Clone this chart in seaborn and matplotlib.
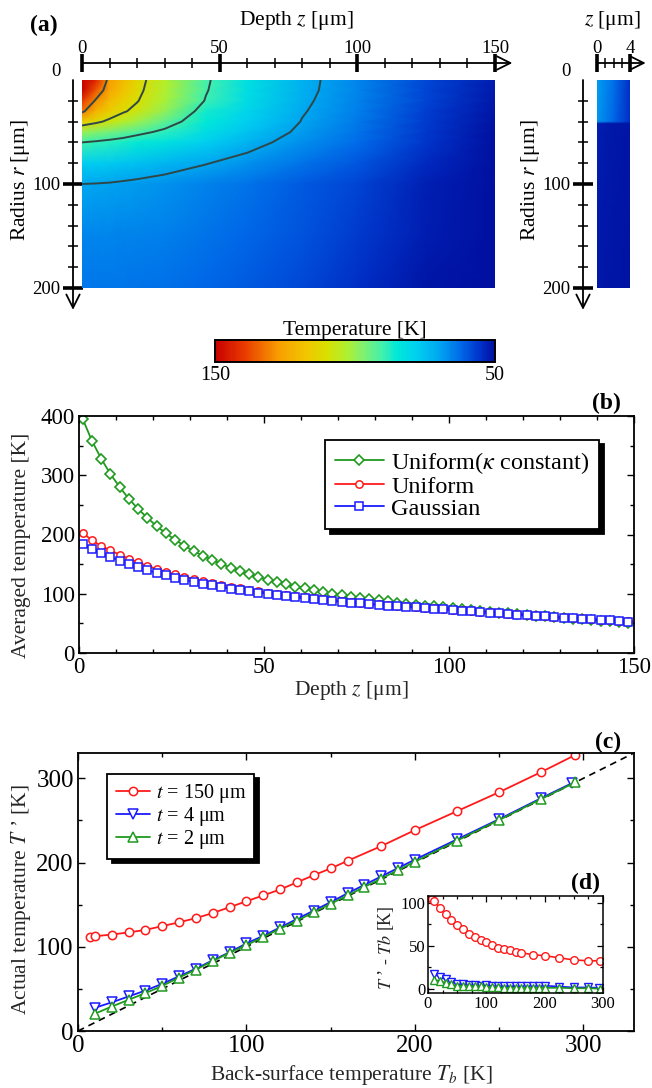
import numpy as np
import pandas as pd
import seaborn as sns
import matplotlib.pyplot as plt
from matplotlib.colors import LinearSegmentedColormap, Normalize
from matplotlib.ticker import MultipleLocator
from matplotlib.transforms import offset_copy

W, H = 652, 1088

# ---- (a) temperature map (K), rows = radius, cols = depth
z_grid = [0, 5, 10, 15, 20, 30, 45, 60, 80, 100, 125, 150]
r_grid = [0, 10, 20, 30, 40, 50, 60, 80, 100, 150, 200]
temp_map = [
    [168, 143, 127, 120, 113, 104, 91, 82.5, 72, 66, 58, 52],
    [155, 136, 125, 118, 112, 103.5, 90.5, 82, 71.8, 65.8, 57.8, 51.8],
    [140, 129, 120, 114.5, 110.5, 102, 89.5, 81.5, 71.2, 65.5, 57.5, 51.5],
    [132, 122, 115.5, 111, 107.5, 99.5, 86.5, 79.5, 70.5, 65, 57, 51],
    [116, 112, 108, 104, 100.5, 93.5, 85, 78, 69.7, 64.3, 56.5, 50.5],
    [100, 98, 96, 94, 92, 88.5, 82, 75.5, 68.5, 63.5, 56, 50],
    [90, 89, 88, 87, 85.5, 83, 78, 72.5, 67, 62.5, 55.5, 49.5],
    [78, 77.5, 77, 76, 75, 73, 70.3, 67.5, 63.5, 60, 54, 48.5],
    [70, 69.8, 69.5, 69, 68.5, 67.5, 65.5, 63.5, 60.5, 57.5, 52.5, 47.5],
    [66, 66, 66, 65.5, 65.5, 65, 63.5, 62, 59.5, 56.5, 52, 47.5],
    [64, 64, 64, 64, 63.5, 63, 62, 60.5, 58, 55, 51, 47],
]
contour_levels = [70, 90, 110, 130]

# thin film (t = 4 um)
z_thin = [0, 2, 4]
r_thin = [0, 40, 42, 200]
temp_thin = [
    [69, 63, 55],
    [68, 62, 55],
    [52, 51.5, 51],
    [51.5, 51, 50.5],
]

# ---- (b) averaged temperature vs depth
depth_b = [1, 3.5, 6, 8.5, 11, 13.5, 16, 18.5, 21, 23.5, 26, 28.5, 31, 33.5, 36,
           38.5, 41, 43.5, 46, 48.5, 51, 53.5, 56, 58.5, 61, 63.5, 66, 68.5, 71,
           73.5, 76, 78.5, 81, 83.5, 86, 88.5, 91, 93.5, 96, 98.5, 101, 103.5,
           106, 108.5, 111, 113.5, 116, 118.5, 121, 123.5, 126, 128.5, 131,
           133.5, 136, 138.5, 141, 143.5, 146, 148.5]
uniform_kconst = [395, 358, 328, 302, 280, 260, 243, 228, 214, 202, 191, 181, 172,
                  164, 157, 150, 144, 138, 133, 128, 124, 120, 116, 112, 109, 106,
                  103, 100, 98, 95, 93, 91, 89, 87, 85, 83, 81.5, 80, 78.5, 77,
                  75.5, 74, 72.5, 71, 69.5, 68, 66.8, 65.5, 64.2, 63, 61.8, 60.5,
                  59.3, 58.1, 56.9, 55.7, 54.5, 53.3, 52.1, 51]
uniform = [203, 190, 181, 173, 166, 159, 153, 147, 142, 137, 133, 129, 125, 121.5,
           118, 115, 112, 109.5, 107, 104.5, 102, 100, 98, 96, 94, 92.5, 91, 89.5,
           88, 86.5, 85, 83.5, 82, 80.8, 79.6, 78.5, 77.4, 76.3, 75.2, 74.1, 73,
           71.8, 70.6, 69.5, 68.4, 67.3, 66.3, 65.3, 64.3, 63.3, 62.3, 61.3, 60.3,
           59.3, 58.4, 57.5, 56.5, 55.5, 54.5, 53.5]
gaussian = [184, 176, 168, 162, 156, 150, 145, 140, 135, 131, 127, 123.5, 120, 117,
            114, 111, 108.5, 106, 104, 102, 100, 98, 96, 94, 92.5, 91, 89.5, 88,
            86.5, 85, 84, 82.5, 81, 80, 79, 78, 77, 76, 75, 74, 72.5, 71.3, 70.1,
            69, 67.9, 66.8, 65.8, 64.8, 63.8, 62.8, 61.8, 60.8, 59.8, 58.8, 57.9,
            57, 56, 55, 54, 53]

# ---- (c) actual temperature vs back-surface temperature
tb_150 = [7, 10, 20, 30, 40, 50, 60, 70, 80, 90, 100, 110, 120, 130, 140, 150,
          160, 180, 200, 225, 250, 275, 295]
t_150 = [112, 112.5, 114.5, 117, 120, 124.5, 129, 134, 140, 147, 154, 161, 168,
         176.5, 185, 193, 202, 219.5, 238.5, 261, 283.5, 307.5, 327.5]
tb_4 = [10, 20, 30, 40, 50, 60, 70, 80, 90, 100, 110, 120, 130, 140, 150, 160,
        170, 180, 190, 200, 225, 250, 275, 293]
t_4 = [27.5, 34, 41, 48, 56, 65, 74, 84, 93.5, 104, 113, 123, 133, 143, 153,
       163.5, 173.5, 183.5, 193.5, 203.5, 227.5, 251.5, 276.5, 294]
tb_2 = [10, 20, 30, 40, 50, 60, 70, 80, 90, 100, 110, 120, 130, 140, 150, 160,
        170, 180, 190, 200, 225, 250, 275, 295]
t_2 = [20.5, 29, 37, 45, 53.5, 63.5, 73, 83, 93, 102, 111.5, 121.5, 131, 141,
       151, 161, 171, 181, 191, 201, 226, 250.5, 275.5, 295]

cmap_stops = [(0.0, '#0010a0'), (0.05, '#0030c8'), (0.12, '#0068e8'), (0.20, '#00a8f0'),
              (0.28, '#00d0f0'), (0.35, '#00e8d8'), (0.40, '#40f0b0'), (0.47, '#80f070'),
              (0.53, '#b0f030'), (0.60, '#d8e000'), (0.67, '#f0c800'), (0.77, '#f8a000'),
              (0.90, '#e83800'), (1.0, '#c80000')]
cmap = LinearSegmentedColormap.from_list('temp', cmap_stops)
norm = Normalize(50, 150)

GREEN, RED, BLUE = '#1f9a1f', '#ff1a1a', '#1a1aff'

sns.set_theme(style='ticks')
plt.rcParams['font.family'] = ['Liberation Serif', 'DejaVu Serif']
plt.rcParams['mathtext.fontset'] = 'stix'
plt.rcParams['axes.edgecolor'] = 'black'
plt.rcParams['xtick.color'] = 'black'
plt.rcParams['ytick.color'] = 'black'
plt.rcParams['text.color'] = 'black'

fig = plt.figure(figsize=(W / 100, H / 100), dpi=100)


def px_rect(x0, y0, x1, y1):
    return [x0 / W, 1 - y1 / H, (x1 - x0) / W, (y1 - y0) / H]


def arrow_axes(ax, zmax, r_tip, left_off, top_off):
    # top axis (depth) and left axis (radius) drawn as arrows
    ax.set_facecolor('none')
    for s in ['bottom', 'right']:
        ax.spines[s].set_visible(False)
    ax.spines['top'].set_position(('outward', top_off * 0.72))
    ax.spines['left'].set_position(('outward', left_off * 0.72))
    ax.spines['top'].set_visible(False)
    ax.spines['left'].set_visible(False)
    tr_top = offset_copy(ax.get_xaxis_transform(), fig=fig, x=0, y=top_off, units='dots')
    tr_left = offset_copy(ax.get_yaxis_transform(), fig=fig, x=-left_off, y=0, units='dots')
    aprops = dict(arrowstyle='->,head_length=0.8,head_width=0.4', lw=1.3, color='black',
                  shrinkA=0, shrinkB=0, mutation_scale=12)
    ax.annotate('', xy=(zmax, 1), xytext=(0, 1), xycoords=tr_top, textcoords=tr_top,
                arrowprops=aprops, annotation_clip=False)
    ax.annotate('', xy=(0, r_tip), xytext=(0, 0), xycoords=tr_left, textcoords=tr_left,
                arrowprops=aprops, annotation_clip=False)
    ax.xaxis.tick_top()
    ax.tick_params(axis='x', which='major', direction='inout', length=13, width=2.6,
                   labelsize=13.5, pad=-2)
    ax.tick_params(axis='x', which='minor', direction='inout', length=6.5, width=1.1)
    ax.tick_params(axis='y', which='major', direction='inout', length=14.4, width=2.6,
                   labelsize=13.5, pad=2)
    ax.tick_params(axis='y', which='minor', direction='inout', length=7.2, width=1.1)
    ax.set_ylim(200, 0)
    ax.set_yticks([0, 100, 200])
    ax.yaxis.set_minor_locator(MultipleLocator(20))
    first = ax.yaxis.get_major_ticks()[0]
    first.tick1line.set_visible(False)
    first.label1.set_va('bottom')
    ax.grid(False)


# ---------------- panel (a)
ax_a = fig.add_axes(px_rect(82, 80, 495, 288))
Zg, Rg = np.meshgrid(z_grid, r_grid)
mesh = ax_a.pcolormesh(Zg, Rg, np.array(temp_map), shading='gouraud', cmap=cmap, norm=norm)
ax_a.contour(Zg, Rg, np.array(temp_map), levels=contour_levels, colors='#2e4848',
             linewidths=1.4)
ax_a.set_xlim(0, 150)
arrow_axes(ax_a, 156.3, 221, 9, 17)
ax_a.set_xticks([0, 50, 100, 150])
ax_a.xaxis.set_minor_locator(MultipleLocator(10))

ax_t = fig.add_axes(px_rect(597, 80, 630, 288))
Zt, Rt = np.meshgrid(z_thin, r_thin)
ax_t.pcolormesh(Zt, Rt, np.array(temp_thin), shading='gouraud', cmap=cmap, norm=norm)
ax_t.set_xlim(0, 4)
arrow_axes(ax_t, 5.9, 221, 14, 17)
ax_t.set_xticks([0, 4])
ax_t.xaxis.set_minor_locator(MultipleLocator(1))

fig.text(44 / W, 1 - 25 / H, '(a)', fontsize=17, fontweight='bold', ha='center', va='center')
fig.text(296 / W, 1 - 21 / H, 'Depth $z$ [μm]', fontsize=15.5, ha='center', va='center')
fig.text(612 / W, 1 - 21 / H, '$z$ [μm]', fontsize=15.5, ha='center', va='center')
fig.text(21 / W, 1 - 180 / H, 'Radius $r$ [μm]', fontsize=15.5, ha='center', va='center',
         rotation=90)
fig.text(530 / W, 1 - 180 / H, 'Radius $r$ [μm]', fontsize=15.5, ha='center', va='center',
         rotation=90)

cax = fig.add_axes(px_rect(215, 340, 495, 362))
cb = fig.colorbar(mesh, cax=cax, orientation='horizontal')
cax.invert_xaxis()
cb.set_ticks([150, 50])
cb.set_ticklabels(['150', '50'])
cax.tick_params(length=0, labelsize=14.5, pad=3)
cb.outline.set_linewidth(1.4)
cax.set_title('Temperature [K]', fontsize=15.5, pad=2)

# ---------------- panel (b)
ax_b = fig.add_axes(px_rect(79, 416, 634, 653))
sns.lineplot(x=depth_b, y=uniform_kconst, ax=ax_b, color=GREEN, lw=1.3, marker='D',
             ms=5.2, mfc='white', mec=GREEN, mew=1.2, label=r'Uniform($\kappa$ constant)')
sns.lineplot(x=depth_b, y=uniform, ax=ax_b, color=RED, lw=1.3, marker='o',
             ms=5.3, mfc='white', mec=RED, mew=1.1, label='Uniform')
sns.lineplot(x=depth_b, y=gaussian, ax=ax_b, color=BLUE, lw=1.3, marker='s',
             ms=5.5, mfc='white', mec=BLUE, mew=1.1, label='Gaussian')
ax_b.set_xlim(0, 150)
ax_b.set_ylim(0, 400)
ax_b.xaxis.set_major_locator(MultipleLocator(50))
ax_b.xaxis.set_minor_locator(MultipleLocator(10))
ax_b.yaxis.set_major_locator(MultipleLocator(100))
ax_b.yaxis.set_minor_locator(MultipleLocator(50))
ax_b.tick_params(which='both', direction='in', top=True, right=True, labelsize=16.5, width=1)
ax_b.tick_params(which='major', length=5, pad=3)
ax_b.tick_params(which='minor', length=3)
for s in ax_b.spines.values():
    s.set_linewidth(1.3)
ax_b.set_xlabel('Depth $z$ [μm]', fontsize=15.5, va='center')
ax_b.xaxis.set_label_coords(0.49, -0.16)
ax_b.set_ylabel('Averaged temperature [K]', fontsize=15.5, va='center')
ax_b.yaxis.set_label_coords(-0.103, 0.456)
ax_b.legend(loc='upper right', bbox_to_anchor=(0.937, 0.899), fontsize=17.5,
            frameon=True, fancybox=False, edgecolor='black', framealpha=1,
            shadow={'color': 'black', 'alpha': 1, 'ox': 3.5, 'oy': -3},
            handlelength=2.0, handletextpad=0.3, borderpad=0.4, labelspacing=0.0,
            borderaxespad=0).get_frame().set_linewidth(1.3)
fig.text(606 / W, 1 - 403 / H, '(b)', fontsize=17, fontweight='bold', ha='center', va='center')

# ---------------- panel (c)
ax_c = fig.add_axes(px_rect(78, 753, 634, 1031))
ax_c.plot([0, 330], [0, 330], color='black', lw=1.2, ls=(0, (4, 3)), zorder=1)
sns.lineplot(x=tb_150, y=t_150, ax=ax_c, color=RED, lw=1.3, marker='o', ms=6,
             mfc='white', mec=RED, mew=1.1, label=r'$t$ = 150 μm', zorder=2)
sns.lineplot(x=tb_4, y=t_4, ax=ax_c, color=BLUE, lw=1.3, marker='v', ms=6.5,
             mfc='white', mec=BLUE, mew=1.1, label=r'$t$ = 4 μm', zorder=3)
sns.lineplot(x=tb_2, y=t_2, ax=ax_c, color=GREEN, lw=1.3, marker='^', ms=6.5,
             mfc='white', mec=GREEN, mew=1.1, label=r'$t$ = 2 μm', zorder=4)
ax_c.set_xlim(0, 330)
ax_c.set_ylim(0, 330)
for axis in (ax_c.xaxis, ax_c.yaxis):
    axis.set_major_locator(MultipleLocator(100))
    axis.set_minor_locator(MultipleLocator(50))
ax_c.tick_params(which='both', direction='in', top=True, right=True, labelsize=18, width=1)
ax_c.tick_params(which='major', length=5, pad=3)
ax_c.tick_params(which='minor', length=3)
for s in ax_c.spines.values():
    s.set_linewidth(1.3)
ax_c.set_xlabel('Back-surface temperature $T_b$ [K]', fontsize=15.5, va='center')
ax_c.xaxis.set_label_coords(0.491, -0.158)
ax_c.set_ylabel("Actual temperature $T$ \u2019 [K]", fontsize=15.5, va='center')
ax_c.yaxis.set_label_coords(-0.1025, 0.471)
ax_c.legend(loc='upper left', bbox_to_anchor=(0.053, 0.924), fontsize=14.5,
            frameon=True, fancybox=False, edgecolor='black', framealpha=1,
            shadow={'color': 'black', 'alpha': 1, 'ox': 3.5, 'oy': -3},
            handlelength=1.7, handletextpad=0.3, borderpad=0.4, labelspacing=0.0,
            borderaxespad=0).get_frame().set_linewidth(1.3)
fig.text(608 / W, 1 - 742 / H, '(c)', fontsize=17, fontweight='bold', ha='center', va='center')

# ---------------- inset (d): T' - Tb from the same data
ax_d = fig.add_axes(px_rect(428, 896, 603, 993))
ax_d.set_facecolor('white')
for tb, tt, col, mk in [(tb_150, t_150, RED, 'o'), (tb_4, t_4, BLUE, 'v'), (tb_2, t_2, GREEN, '^')]:
    diff = np.array(tt) - np.array(tb)
    sns.lineplot(x=tb, y=diff, ax=ax_d, color=col, lw=1.2, marker=mk, ms=5.5,
                 mfc='white', mec=col, mew=1.0)
if ax_d.get_legend() is not None:
    ax_d.get_legend().remove()
ax_d.set_xlim(0, 300)
ax_d.set_ylim(-5, 108)
ax_d.xaxis.set_major_locator(MultipleLocator(100))
ax_d.xaxis.set_minor_locator(MultipleLocator(25))
ax_d.yaxis.set_major_locator(MultipleLocator(50))
ax_d.yaxis.set_minor_locator(MultipleLocator(25))
ax_d.tick_params(which='both', direction='in', top=True, right=True, labelsize=12, width=0.9)
ax_d.tick_params(which='major', length=4, pad=2)
ax_d.tick_params(which='minor', length=2.5)
for s in ax_d.spines.values():
    s.set_linewidth(1.1)
ax_d.set_ylabel("$T$ \u2019 - $Tb$ [K]", fontsize=13, va='center')
ax_d.yaxis.set_label_coords(-0.24, 0.464)
fig.text(585 / W, 1 - 883 / H, '(d)', fontsize=17, fontweight='bold', ha='center', va='center')

fig.savefig('out.png', dpi=100)
